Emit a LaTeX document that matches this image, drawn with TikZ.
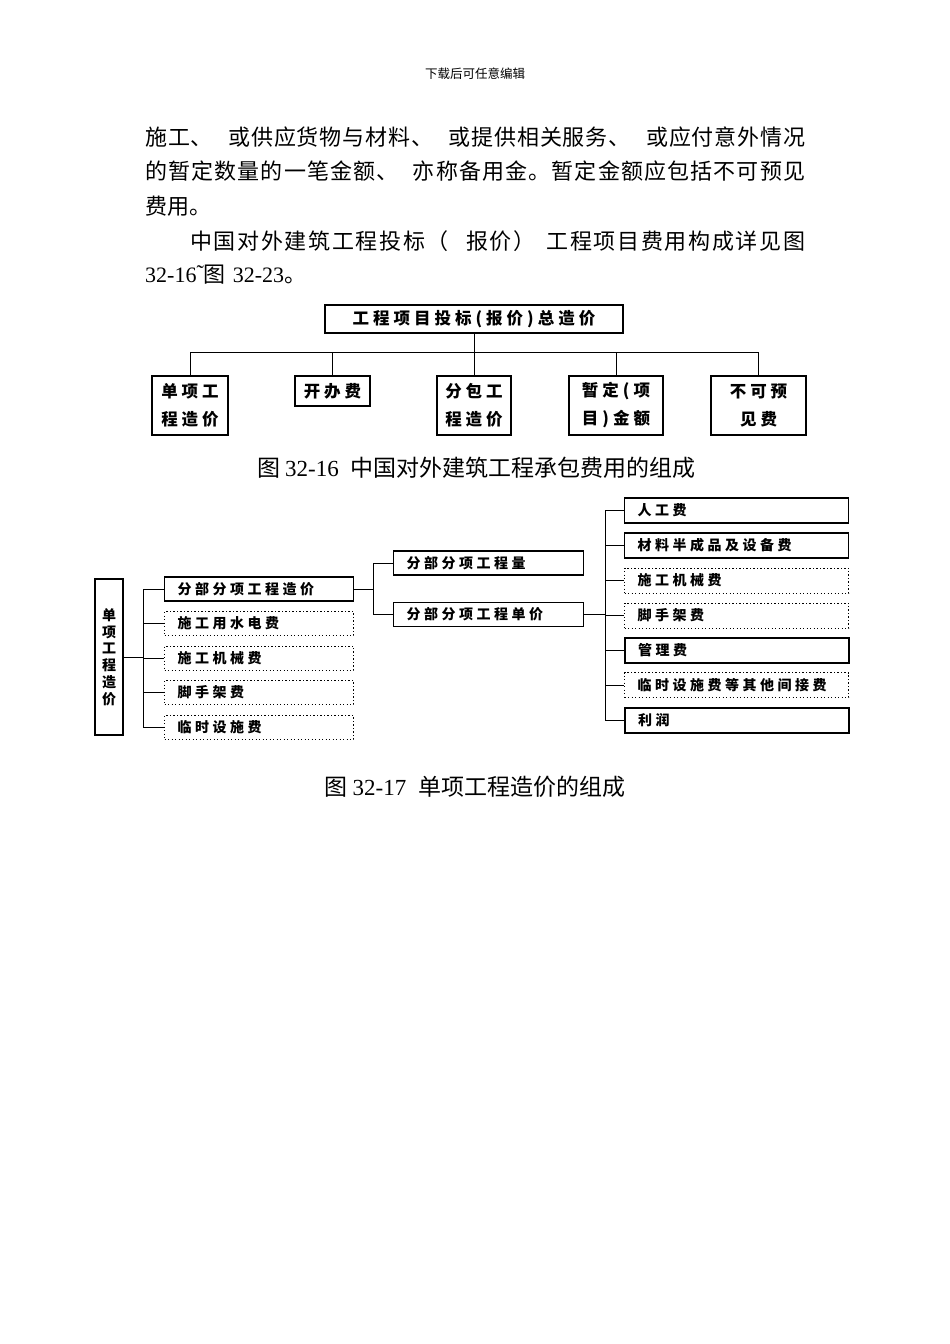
\documentclass[tikz,border=0pt]{standalone}
\usepackage{fontspec}
\setmainfont{Noto Sans CJK SC}
\newfontfamily\dig{Liberation Serif}
\newskip\lsskip
\def\ls#1{\lsa#1\relax}
\def\lsa#1{#1\lsi}
\def\lsi#1{\ifx#1\relax\else\hskip\lsskip#1\expandafter\lsi\fi}
\def\gapA{\hskip14pt\relax}
\def\gapB{\hskip12pt\relax}
\def\gapC{\hskip8pt\relax}
\tikzset{
  conn/.style={line width=0.9pt},
  bodyline/.style={anchor=west, inner sep=0pt, font=\fontsize{22}{22}\selectfont},
  caption/.style={inner sep=0pt, font=\fontsize{23}{23}\selectfont},
  boxA/.style={draw, line width=1.4pt, inner sep=0pt, align=center, font=\bfseries\fontsize{16.5}{28}\selectfont},
  lbox/.style={draw, line width=1.2pt, anchor=west, inner ysep=0pt, inner xsep=13pt, minimum height=24pt, align=left, font=\bfseries\fontsize{14}{14}\selectfont},
  dotbox/.style={lbox, line width=1pt, dash pattern=on 1.3pt off 2.2pt},
  thickbox/.style={lbox, line width=2pt},
}
\begin{document}
\begin{tikzpicture}[x=1pt,y=-1pt]
\fill[white] (0,0) rectangle (950,1344);
\useasboundingbox (0,0) rectangle (950,1344);
% header
\node[inner sep=0pt, font=\fontsize{12.5}{12.5}\selectfont] (hdr) at (475,74) {下载后可任意编辑};
% body text
\node[bodyline] (p1) at (145,137) {\makebox[660pt][s]{\lsskip=0pt plus 1fil\relax\ls{施工、\gapA 或供应货物与材料、\gapA 或提供相关服务、\gapA 或应付意外情况}}};
\node[bodyline] (p2) at (145,171) {\makebox[660pt][s]{\lsskip=0pt plus 1fil\relax\ls{的暂定数量的一笔金额、\gapB 亦称备用金。暂定金额应包括不可预见}}};
\node[bodyline] (p3) at (145,206) {费用。};
\node[bodyline] (p4) at (190,241) {\makebox[615pt][s]{\lsskip=0pt plus 1fil\relax\ls{中国对外建筑工程投标（\gapA 报价）\gapC 工程项目费用构成详见图}}};
\node[bodyline] (p5) at (145,275) {{\dig 32-16}{\dig\raisebox{2pt}{˜}}图\hspace{7pt}{\dig 32-23}。};

% ---------- Figure 32-16 ----------
\lsskip=4pt
\node[boxA, minimum width=298pt, minimum height=28pt] (top) at (474,319) {\ls{工程项目投标(报价)总造价}};
\node[boxA, minimum width=76pt, minimum height=59pt] (b1) at (190,405.5) {\ls{单项工}\\\ls{程造价}};
\node[boxA, minimum width=75pt, minimum height=30pt] (b2) at (332.5,391) {\ls{开办费}};
\node[boxA, minimum width=74pt, minimum height=59pt] (b3) at (474,405.5) {\ls{分包工}\\\ls{程造价}};
\node[boxA, minimum width=94pt, minimum height=59pt] (b4) at (616,405.5) {\ls{暂定(项}\\\ls{目)金额}};
\node[boxA, minimum width=95pt, minimum height=59pt] (b5) at (758.5,405.5) {\ls{不可预}\\\ls{见费}};
\coordinate (j1) at (474,352);
\draw[conn] (top.south) -- (j1);
\draw[conn] (b1.north |- j1) -- (b5.north |- j1);
\foreach \b in {b1,b2,b3,b4,b5} \draw[conn] (\b.north |- j1) -- (\b.north);
\node[caption] (cap1) at (476.5,468) {图\hspace{5pt}{\dig 32-16}\hspace{12pt}中国对外建筑工程承包费用的组成};

% ---------- Figure 32-17 ----------
\lsskip=3.5pt
\node[draw, line width=1.2pt, minimum width=28pt, minimum height=156pt, inner sep=0pt, align=center, font=\bfseries\fontsize{14}{16.8}\selectfont] (V) at (109,657) {单\\项\\工\\程\\造\\价};

\node[lbox, text width=163pt] (L1) at (164,589) {\ls{分部分项工程造价}};
\node[dotbox, text width=163pt] (L2) at (164,623.5) {\ls{施工用水电费}};
\node[dotbox, text width=163pt] (L3) at (164,658) {\ls{施工机械费}};
\node[dotbox, text width=163pt] (L4) at (164,692.5) {\ls{脚手架费}};
\node[dotbox, text width=163pt] (L5) at (164,727.5) {\ls{临时设施费}};

\node[lbox, text width=164pt] (M1) at (393,563) {\ls{分部分项工程量}};
\node[lbox, text width=164pt] (M2) at (393,614.5) {\ls{分部分项工程单价}};

\node[lbox, text width=198pt, minimum height=25pt] (R1) at (624,510.5) {\ls{人工费}};
\node[lbox, text width=198pt, minimum height=25pt] (R2) at (624,545.5) {\ls{材料半成品及设备费}};
\node[dotbox, text width=198pt, minimum height=25pt] (R3) at (624,580.5) {\ls{施工机械费}};
\node[dotbox, text width=198pt, minimum height=25pt] (R4) at (624,615.5) {\ls{脚手架费}};
\node[thickbox, text width=198pt, minimum height=25pt] (R5) at (624,650) {\ls{管理费}};
\node[dotbox, text width=198pt, minimum height=25pt] (R6) at (624,685) {\ls{临时设施费等其他间接费}};
\node[thickbox, text width=198pt, minimum height=25pt] (R7) at (624,720.5) {\ls{利润}};

% connectors level 1
\coordinate (busA) at (143,657);
\draw[conn] (V.east) -- (busA);
\draw[conn] (L1.west -| busA) -- (L5.west -| busA);
\foreach \b in {L1,L2,L3,L4,L5} \draw[conn] (\b.west -| busA) -- (\b.west);
% connectors level 2
\coordinate (busB) at (373,589);
\draw[conn] (L1.east) -- (busB);
\draw[conn] (M1.west -| busB) -- (M2.west -| busB);
\foreach \b in {M1,M2} \draw[conn] (\b.west -| busB) -- (\b.west);
% connectors level 3
\coordinate (busC) at (605,614.5);
\draw[conn] (M2.east) -- (busC);
\draw[conn] (R1.west -| busC) -- (R7.west -| busC);
\foreach \b in {R1,R2,R3,R4,R5,R6,R7} \draw[conn] (\b.west -| busC) -- (\b.west);

\node[caption] (cap2) at (475,787) {图\hspace{5pt}{\dig 32-17}\hspace{12pt}单项工程造价的组成};
\end{tikzpicture}
\end{document}
